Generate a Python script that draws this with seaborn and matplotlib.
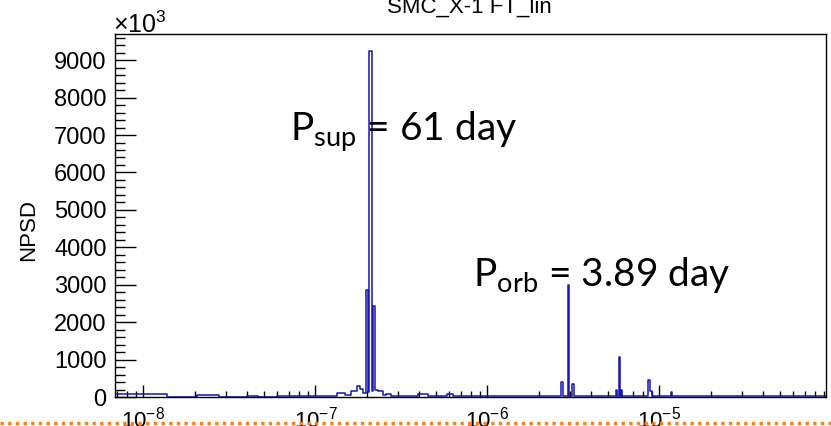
import numpy as np
import pandas as pd
import seaborn as sns
import matplotlib
matplotlib.use("Agg")
import matplotlib.pyplot as plt
from matplotlib.ticker import LogLocator, MultipleLocator, NullFormatter
from matplotlib.lines import Line2D

# ---------------- data ----------------
# histogram bin edges in Hz and NPSD values (x10^3) for each bin
bin_edges = [
    6.83e-9, 1.366e-8, 2.049e-8, 2.732e-8, 4.0e-8, 4.65e-8, 6.0e-8, 7.5e-8,
    1.214e-7, 1.332e-7, 1.483e-7, 1.600e-7, 1.733e-7, 1.811e-7, 1.893e-7,
    1.954e-7, 2.015e-7, 2.050e-7, 2.126e-7, 2.146e-7, 2.222e-7, 2.313e-7,
    2.472e-7, 2.563e-7, 2.766e-7, 3.93e-7, 4.49e-7, 5.785e-7, 6.27e-7,
    2.685e-6, 2.732e-6, 2.922e-6, 2.989e-6, 3.111e-6, 3.165e-6,
    5.572e-6, 5.693e-6, 5.80e-6, 5.86e-6, 5.957e-6, 6.085e-6,
    8.61e-6, 8.81e-6, 9.01e-6, 1.161e-5, 1.187e-5, 9.29e-5,
]
npsd_values = [
    70, 12, 50, 10, 30, 12, 20,
    15, 15, 115, 55, 160, 300, 215,
    115, 2850, 130, 9250, 150, 2420, 190,
    170, 55, 80, 20, 90, 25, 80,
    20, 400, 20, 3000, 20, 350,
    20, 200, 20, 1070, 20, 200,
    20, 450, 150, 20, 130, 20,
]
y_ticks = [0, 1000, 2000, 3000, 4000, 5000, 6000, 7000, 8000, 9000]
title_text = "SMC_X-1 FT_lin"
y_label = "NPSD"
annot_sup = "P$_\\mathsf{sup}$ = 61 day"
annot_orb = "P$_\\mathsf{orb}$ = 3.89 day"

# ---------------- style ----------------
sns.set_theme(style="white")
plt.rcParams["font.family"] = ["Liberation Sans", "DejaVu Sans"]
plt.rcParams["mathtext.fontset"] = "custom"
plt.rcParams["mathtext.rm"] = "Liberation Sans"
plt.rcParams["mathtext.sf"] = "Lato"

W, H = 831, 426
fig = plt.figure(figsize=(W / 100, H / 100), dpi=100)
fig.patch.set_facecolor("white")
ax = fig.add_axes([115 / W, 1 - 397 / H, (826 - 115) / W, (397 - 34) / H])
ax.set_facecolor("white")

centers = [0.5 * (a + b) for a, b in zip(bin_edges[:-1], bin_edges[1:])]
df = pd.DataFrame({"freq": centers, "npsd": npsd_values})

sns.histplot(data=df, x="freq", weights="npsd", bins=list(bin_edges), element="step",
             fill=False, color="#1616b0", linewidth=1.1, ax=ax, legend=False)

ax.set_xscale("log")
ax.set_xlim(bin_edges[0], bin_edges[-1])
ax.set_ylim(0, 9700)
ax.set_xlabel("")
ax.set_ylabel("")

ax.set_yticks(y_ticks)
ax.set_yticklabels([str(v) for v in y_ticks])
ax.yaxis.set_minor_locator(MultipleLocator(200))
ax.xaxis.set_major_locator(LogLocator(base=10))
ax.xaxis.set_minor_locator(LogLocator(base=10, subs=np.arange(2, 10)))
ax.xaxis.set_minor_formatter(NullFormatter())

ax.tick_params(axis="both", which="both", direction="in", colors="black",
               top=False, right=False, bottom=True, left=True)
ax.tick_params(axis="y", which="major", length=15, width=1, pad=6, labelsize=17)
ax.tick_params(axis="y", which="minor", length=7.5, width=1)
ax.tick_params(axis="x", which="major", length=9, width=1, pad=7, labelsize=16)
ax.tick_params(axis="x", which="minor", length=4.5, width=1)
for s in ax.spines.values():
    s.set_visible(True)
    s.set_color("black")
    s.set_linewidth(1.0)

# texts
fig.text(469 / W, 1 - 13 / H, title_text, ha="center", va="baseline",
         fontsize=16, color="black")
fig.text(113 / W, 1 - 33 / H, r"$\times$10$^{3}$", ha="left", va="baseline",
         fontsize=18, color="black")
fig.text(29 / W, 1 - 230 / H, y_label, rotation=90, ha="center", va="center",
         fontsize=16, color="black")
fig.text(290 / W, 1 - 141 / H, annot_sup, ha="left", va="baseline",
         fontsize=28, family="Lato", color="black")
fig.text(473 / W, 1 - 286 / H, annot_orb, ha="left", va="baseline",
         fontsize=28, family="Lato", color="black")

# orange dotted separator line
fig.add_artist(Line2D([0, 1], [1 - 423 / H, 1 - 423 / H], transform=fig.transFigure,
                      color="#f5821f", linewidth=2.4, linestyle=(0, (1.0, 1.3)),
                      zorder=10))

fig.savefig("out.png", dpi=100)
